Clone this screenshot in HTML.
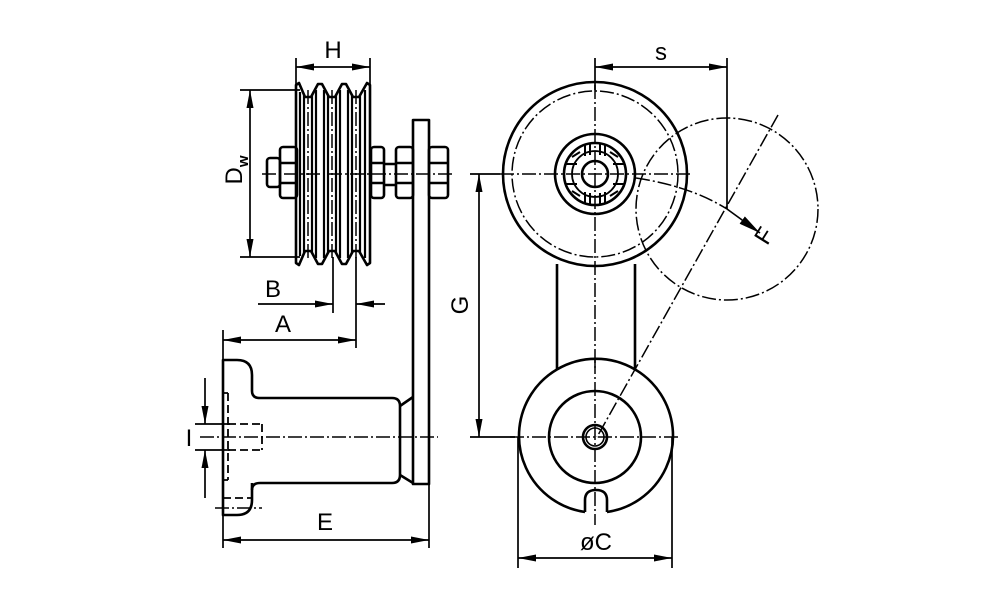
<!DOCTYPE html>
<html><head><meta charset="utf-8"><style>html,body{margin:0;padding:0;background:#fff}svg{display:block}</style></head><body>
<svg width="1000" height="611" viewBox="0 0 1000 611" xmlns="http://www.w3.org/2000/svg" font-family="Liberation Sans, sans-serif">
<defs>
<marker id="ar" viewBox="0 0 18 7" refX="18" refY="3.5" markerWidth="18" markerHeight="7" orient="auto" markerUnits="userSpaceOnUse"><path d="M0,0 L18,3.5 L0,7 z" fill="#000"/></marker>
<marker id="ar2" viewBox="0 0 22 9" refX="22" refY="4.5" markerWidth="22" markerHeight="9" orient="auto" markerUnits="userSpaceOnUse"><path d="M0,0 L22,4.5 L0,9 z" fill="#000"/></marker>
</defs>
<g fill="none" stroke="#000" stroke-width="2.6" stroke-linejoin="round">
<path d="M296,263 L296,85 L299,83 L305,97 L311,97 L318,84 L322,84 L329,97 L335,97 L342,84 L346,84 L353,97 L359,97 L367,83 L370,85 L370,263 L367,265 L359,251 L353,251 L346,264 L342,264 L335,251 L329,251 L322,264 L318,264 L311,251 L305,251 L299,265 Z"/>
<g stroke-width="2.2">
<path d="M300,92 V256 M304,95 V253 M312,95 V253 M316,90 V258 M324,90 V258 M328,95 V253 M336,95 V253 M340,90 V258 M348,90 V258 M352,95 V253 M360,95 V253 M365,90 V258"/>
</g>
<rect x="267" y="158" width="13" height="29" rx="3"/>
<rect x="280" y="147" width="17" height="51" rx="3"/>
<path d="M280,163 H297 M280,183 H297"/>
<rect x="371" y="147" width="13" height="51" rx="3"/>
<path d="M371,163 H384 M371,183 H384"/>
<path d="M384,164 H396 M384,185 H396"/>
<rect x="396" y="147" width="17" height="51" rx="3"/>
<path d="M396,163 H413 M396,183 H413"/>
<rect x="429" y="147" width="19" height="51" rx="3"/>
<path d="M429,163 H448 M429,183 H448"/>
<rect x="413" y="120" width="16" height="364"/>
<path d="M252,391 V375 Q252,360 237,360 H223 V515 H237 Q252,515 252,500 V483"/>
<path d="M252,391 Q252,398 260,398 H392 Q400,398 400,406 V475 Q400,483 392,483 H260 Q252,483 252,490"/>
<path d="M400,406 L413,397 M400,475 L413,483"/>
<circle cx="595" cy="174" r="92"/>
<circle cx="595" cy="174" r="40"/>
<circle cx="595" cy="174" r="31"/>
<circle cx="595" cy="174" r="13"/>
<circle cx="595" cy="174" r="23" stroke-width="1.8"/>
<path d="M557,264 V370 M635,264 V370"/>
<path d="M585,512 A77,77 0 1 1 607,512"/>
<path d="M585,512 V500 Q585,490 596,490 Q607,490 607,500 V512"/>
<circle cx="595" cy="437" r="46"/>
<circle cx="595" cy="437" r="12"/>
<circle cx="595" cy="437" r="9" stroke-width="1.6"/>
</g>
<g stroke="#000" stroke-width="2" fill="none">
<path d="M585,145 V156 M590,144 V155 M600,144 V155 M605,145 V156 M585,192 V203 M590,193 V204 M600,193 V204 M605,192 V203"/>
<path d="M566,164 H577 M566,184 H577 M613,164 H624 M613,184 H624"/>
<path d="M572,157 L580,152 M618,157 L610,152 M572,191 L580,196 M618,191 L610,196"/>
</g>
<g stroke="#000" stroke-width="1.8" fill="none" stroke-dasharray="8,4">
<path d="M228,393 V480 M223,393 H228 M223,480 H228"/>
<path d="M228,424 H262 M228,450 H262 M262,424 V450"/>
<path d="M223,498 H252"/>
</g>
<g stroke="#000" stroke-width="1.5" fill="none" stroke-dasharray="14,3,2,3">
<path d="M262,174 H455"/>
<path d="M308,90 V258 M332,90 V258 M356,90 V258"/>
<path d="M200,437 H438"/>
<path d="M215,508 H262"/>
<path d="M500,174 H690"/>
<path d="M595,85 V370"/>
<path d="M510,437 H680"/>
<path d="M595,360 V525"/>
<circle cx="595" cy="174" r="83"/>
<circle cx="727" cy="209" r="91"/>
<path d="M636,178 Q690,186 727,209"/>
<path d="M778,115 L597,437"/>
</g>
<g stroke="#000" stroke-width="1.7" fill="none">
<path d="M296,58 V85 M370,58 V85"/>
<path d="M240,90 H300 M240,257 H300"/>
<path d="M333,257 V313 M356,257 V348"/>
<path d="M223,330 V362"/>
<path d="M223,515 V548 M429,484 V548"/>
<path d="M195,424 H230 M195,450 H230"/>
<path d="M595,58 V90 M727,58 V209"/>
<path d="M470,174 H500 M470,437 H515"/>
<path d="M518,437 V568 M672,437 V568"/>
</g>
<g stroke="#000" stroke-width="1.7" fill="none" marker-end="url(#ar)">
<path d="M333,67 H296"/><path d="M333,67 H370"/>
<path d="M250,173 V90"/><path d="M250,173 V257"/>
<path d="M258,304 H333"/><path d="M385,304 H356"/>
<path d="M290,340 H223"/><path d="M290,340 H356"/>
<path d="M205,378 V424"/><path d="M205,498 V450"/>
<path d="M326,540 H223"/><path d="M326,540 H429"/>
<path d="M661,67 H595"/><path d="M661,67 H727"/>
<path d="M479,305 V174"/><path d="M479,305 V437"/>
<path d="M595,558 H518"/><path d="M595,558 H672"/>
</g>
<path d="M727,209 L760,233" stroke="#000" stroke-width="1.7" marker-end="url(#ar2)"/>
<g font-size="24" fill="#000" text-anchor="middle">
<text x="333" y="58">H</text>
<text x="273" y="297">B</text>
<text x="283" y="332">A</text>
<text x="325" y="530">E</text>
<text x="661" y="60">s</text>
<text x="596" y="550">øC</text>
<text x="189" y="446">I</text>
<text transform="translate(468,305) rotate(-90)">G</text>
<text transform="translate(242,170) rotate(-90)">D<tspan font-size="15" font-weight="bold" dy="6">w</tspan></text>
<text transform="translate(771,240) rotate(-58)">F</text>
</g>
</svg>
</body></html>
